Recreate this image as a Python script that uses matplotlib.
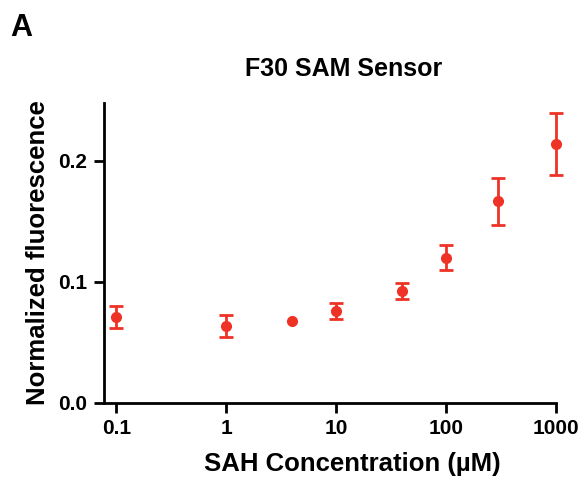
import matplotlib.pyplot as plt

plt.rcParams['font.family'] = ['Liberation Sans', 'DejaVu Sans']
plt.rcParams['font.weight'] = 'bold'

# SAH concentration (uM) and normalized fluorescence (mean +/- error)
conc = [0.1, 1, 4, 10, 40, 100, 300, 1000]
fluor = [0.071, 0.0636, 0.068, 0.0763, 0.0926, 0.120, 0.1666, 0.214]
err = [0.009, 0.009, 0.0, 0.0066, 0.0064, 0.0103, 0.0197, 0.0253]

red = "#EE3326"


def main():
    fig = plt.figure(figsize=(5.79, 4.83), dpi=100)
    ax = fig.add_axes([0.18, 0.166, 0.78, 0.621])

    # points with error bars
    xs = [c for c, e in zip(conc, err) if e > 0]
    ys = [f for f, e in zip(fluor, err) if e > 0]
    es = [e for e in err if e > 0]
    eb = ax.errorbar(xs, ys, yerr=es, fmt="o", color=red, ecolor=red,
                     markersize=7, elinewidth=2, capsize=4.8, capthick=2)
    for art in eb.lines[1] + eb.lines[2] + (eb.lines[0],):
        art.set_clip_on(False)
    # point without visible error bar
    xn = [c for c, e in zip(conc, err) if e == 0]
    yn = [f for f, e in zip(fluor, err) if e == 0]
    ax.plot(xn, yn, "o", color=red, markersize=7)

    ax.set_xscale("log")
    ax.set_xlim(0.0778, 1000)
    ax.set_ylim(0, 0.248)
    ax.set_xticks([0.1, 1, 10, 100, 1000])
    ax.set_xticklabels(["0.1", "1", "10", "100", "1000"])
    ax.minorticks_off()
    ax.set_yticks([0, 0.1, 0.2])
    ax.set_yticklabels(["0.0", "0.1", "0.2"])

    for side in ["top", "right"]:
        ax.spines[side].set_visible(False)
    for side in ["left", "bottom"]:
        ax.spines[side].set_linewidth(2)
    ax.tick_params(width=2, length=7, labelsize=15, pad=5)

    ax.set_xlabel("SAH Concentration (µM)", fontsize=18.5, fontweight="bold",
                  labelpad=10, x=0.549)
    ax.set_ylabel("Normalized fluorescence", fontsize=18.5, fontweight="bold", labelpad=6)
    ax.set_title("F30 SAM Sensor", fontsize=18, fontweight="bold", pad=19, x=0.53)
    fig.text(0.018, 0.925, "A", fontsize=22, fontweight="bold")

    fig.savefig("out.png", dpi=100)


if __name__ == "__main__":
    main()
